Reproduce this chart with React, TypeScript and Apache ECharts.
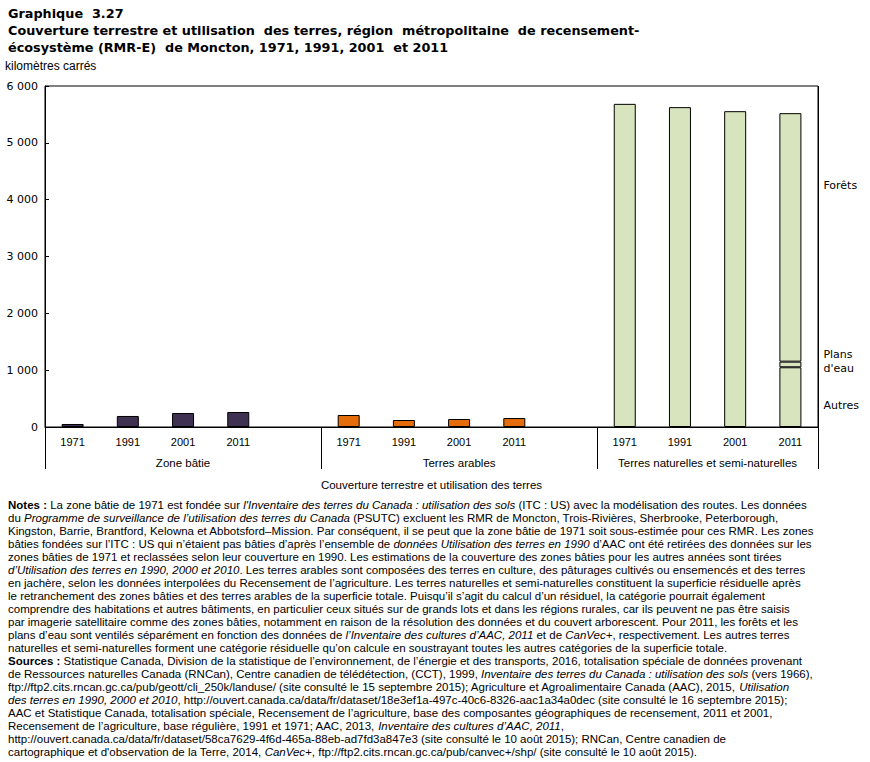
import React, { useEffect, useRef } from "react";
import * as echarts from "echarts";

const categories = ["1971", "1991", "2001", "2011", "", "1971", "1991", "2001", "2011", "", "1971", "1991", "2001", "2011"];
const groupLabels = ["Zone bâtie", "Terres arables", "Terres naturelles et semi-naturelles"];
const groupStarts = [0, 5, 10];
const groupEnds = [5, 10, 14];
const builtValues = [53, 194, 246, 264, null, null, null, null, null, null, null, null, null, null];
const arableValues = [null, null, null, null, null, 211, 123, 141, 158, null, null, null, null, null];
const naturalOtherValues = [null, null, null, null, null, null, null, null, null, null, 5686, 5628, 5557, 1051];
const waterValues = [null, null, null, null, null, null, null, null, null, null, null, null, null, 99];
const forestValues = [null, null, null, null, null, null, null, null, null, null, null, null, null, 4372];
const yTicks = [0, 1000, 2000, 3000, 4000, 5000, 6000];

const titleLines = [
  "Graphique  3.27",
  "Couverture terrestre et utilisation  des terres, région  métropolitaine  de recensement-",
  "écosystème (RMR-E)  de Moncton, 1971, 1991, 2001  et 2011",
];

const noteLines = [
  "{b|Notes :} La zone bâtie de 1971 est fondée sur {i|l'Inventaire des terres du Canada : utilisation des sols} (ITC : US) avec la modélisation des routes. Les données",
  "du {i|Programme de surveillance de l’utilisation des terres du Canada} (PSUTC) excluent les RMR de Moncton, Trois-Rivières, Sherbrooke, Peterborough,",
  "Kingston, Barrie, Brantford, Kelowna et Abbotsford–Mission. Par conséquent, il se peut que la zone bâtie de 1971 soit sous-estimée pour ces RMR. Les zones",
  "bâties fondées sur l’ITC : US qui n’étaient pas bâties d’après l’ensemble de {i|données Utilisation des terres en 1990} d’AAC ont été retirées des données sur les",
  "zones bâties de 1971 et reclassées selon leur couverture en 1990. Les estimations de la couverture des zones bâties pour les autres années sont tirées",
  "{i|d’Utilisation des terres en 1990, 2000 et 2010}. Les terres arables sont composées des terres en culture, des pâturages cultivés ou ensemencés et des terres",
  "en jachère, selon les données interpolées du Recensement de l’agriculture. Les terres naturelles et semi-naturelles constituent la superficie résiduelle après",
  "le retranchement des zones bâties et des terres arables de la superficie totale. Puisqu’il s’agit du calcul d’un résiduel, la catégorie pourrait également",
  "comprendre des habitations et autres bâtiments, en particulier ceux situés sur de grands lots et dans les régions rurales, car ils peuvent ne pas être saisis",
  "par imagerie satellitaire comme des zones bâties, notamment en raison de la résolution des données et du couvert arborescent. Pour 2011, les forêts et les",
  "plans d’eau sont ventilés séparément en fonction des données de {i|l’Inventaire des cultures d’AAC, 2011} et de {i|CanVec+}, respectivement. Les autres terres",
  "naturelles et semi-naturelles forment une catégorie résiduelle qu’on calcule en soustrayant toutes les autres catégories de la superficie totale.",
  "{b|Sources :} Statistique Canada, Division de la statistique de l’environnement, de l’énergie et des transports, 2016, totalisation spéciale de données provenant",
  "de Ressources naturelles Canada (RNCan), Centre canadien de télédétection, (CCT), 1999, {i|Inventaire des terres du Canada : utilisation des sols} (vers 1966),",
  "ftp://ftp2.cits.rncan.gc.ca/pub/geott/cli_250k/landuse/ (site consulté le 15 septembre 2015); Agriculture et Agroalimentaire Canada (AAC), 2015, {i|Utilisation}",
  "{i|des terres en 1990, 2000 et 2010}, http://ouvert.canada.ca/data/fr/dataset/18e3ef1a-497c-40c6-8326-aac1a34a0dec (site consulté le 16 septembre 2015);",
  "AAC et Statistique Canada, totalisation spéciale, Recensement de l’agriculture, base des composantes géographiques de recensement, 2011 et 2001,",
  "Recensement de l’agriculture, base régulière, 1991 et 1971; AAC, 2013, {i|Inventaire des cultures d’AAC, 2011},",
  "http://ouvert.canada.ca/data/fr/dataset/58ca7629-4f6d-465a-88eb-ad7fd3a847e3 (site consulté le 10 août 2015); RNCan, Centre canadien de",
  "cartographique et d'observation de la Terre, 2014, {i|CanVec+}, ftp://ftp2.cits.rncan.gc.ca/pub/canvec+/shp/ (site consulté le 10 août 2015).",
];

const COLOR_BUILT = "#3f3151";
const COLOR_ARABLE = "#e46c0a";
const COLOR_NATURAL = "#d7e4bd";
const NARROW = "'Liberation Sans', Arial, sans-serif";
const WIDE = "'DejaVu Sans', Verdana, sans-serif";
const NOTE_SIZE = 11.5;

function fmt(v: number) {
  return String(v).replace(/\B(?=(\d{3})+(?!\d))/g, " ");
}

const barStyle = (color: string) => ({ color, borderColor: "#000", borderWidth: 1 });

function withLabel(values: (number | null)[], text: string, offsetY: number) {
  return values.map((v, i) =>
    i === values.length - 1 && v != null
      ? {
          value: v,
          label: {
            show: true,
            position: "right",
            distance: 22,
            offset: [0, offsetY],
            formatter: text,
            color: "#000",
            fontFamily: WIDE,
            fontSize: 11,
            lineHeight: 14,
            align: "left",
          },
        }
      : v == null ? "-" : v
  );
}

export default function App() {
  const ref = useRef<HTMLDivElement>(null);
  useEffect(() => {
    if (!ref.current) return;
    const chart = echarts.init(ref.current, null, { renderer: "svg" });
    const option: any = {
      animation: false,
      backgroundColor: "#fff",
      grid: { left: 45, right: 52, top: 86, bottom: 335, show: true, borderColor: "#000", borderWidth: 1, backgroundColor: "transparent" },
      xAxis: {
        type: "category",
        data: categories,
        axisLine: { lineStyle: { color: "#000", width: 1 } },
        axisTick: { show: false },
        axisLabel: { color: "#000", fontFamily: NARROW, fontSize: 11, margin: 9, interval: 0 },
      },
      yAxis: {
        type: "value",
        min: 0,
        max: 6000,
        interval: 1000,
        axisLine: { show: true, lineStyle: { color: "#000", width: 1 } },
        axisTick: { show: true, inside: true, length: 4, lineStyle: { color: "#000" } },
        splitLine: { show: false },
        axisLabel: { color: "#000", fontFamily: WIDE, fontSize: 11, margin: 7, formatter: (v: number) => fmt(v) },
      },
      series: [
        { name: "Zone bâtie", type: "bar", stack: "s", barWidth: 22, data: builtValues.map((v) => (v == null ? "-" : v)), itemStyle: barStyle(COLOR_BUILT) },
        { name: "Terres arables", type: "bar", stack: "s", barWidth: 22, data: arableValues.map((v) => (v == null ? "-" : v)), itemStyle: barStyle(COLOR_ARABLE) },
        { name: "Autres", type: "bar", stack: "s", barWidth: 22, data: withLabel(naturalOtherValues, "Autres", 8), itemStyle: barStyle(COLOR_NATURAL) },
        { name: "Plans d'eau", type: "bar", stack: "s", barWidth: 22, data: withLabel(waterValues, "Plans\nd'eau", -3), itemStyle: barStyle(COLOR_NATURAL) },
        { name: "Forêts", type: "bar", stack: "s", barWidth: 22, data: withLabel(forestValues, "Forêts", -52), itemStyle: barStyle(COLOR_NATURAL) },
      ],
    };
    chart.setOption(option);

    const xs = categories.map((_, i) => chart.convertToPixel({ xAxisIndex: 0 }, i) as number);
    const band = xs[1] - xs[0];
    const edge = (i: number) => (i < xs.length ? xs[i] - band / 2 : xs[xs.length - 1] + band / 2);
    const y0 = chart.convertToPixel({ yAxisIndex: 0 }, 0) as number;
    const yTop = chart.convertToPixel({ yAxisIndex: 0 }, yTicks[yTicks.length - 1]) as number;
    const sepBottom = y0 + 42;

    const graphic: any[] = [];
    const bounds = [0, 5, 10, 14];
    bounds.forEach((b) => {
      const x = Math.round(edge(b)) + 0.5;
      graphic.push({ type: "line", silent: true, shape: { x1: x, y1: b === 0 || b === 14 ? yTop : y0, x2: x, y2: sepBottom }, style: { stroke: "#000", lineWidth: 1 } });
    });
    groupLabels.forEach((g, k) => {
      const cx = (edge(groupStarts[k]) + edge(groupEnds[k])) / 2;
      graphic.push({ type: "text", silent: true, x: cx, y: y0 + 36, style: { text: g, fill: "#000", font: `11.5px ${NARROW}`, align: "center", verticalAlign: "middle" } });
    });
    graphic.push({
      type: "text", silent: true, x: (edge(0) + edge(14)) / 2, y: y0 + 58,
      style: { text: "Couverture terrestre et utilisation des terres", fill: "#000", font: `11.5px ${NARROW}`, align: "center", verticalAlign: "middle" },
    });
    titleLines.forEach((t, i) => {
      graphic.push({ type: "text", silent: true, x: 8, y: 13 + i * 17, style: { text: t, fill: "#000", font: `bold 12.8px ${WIDE}`, verticalAlign: "middle" } });
    });
    graphic.push({ type: "text", silent: true, x: 5, y: 66, style: { text: "kilomètres carrés", fill: "#000", font: `12px ${NARROW}`, verticalAlign: "middle" } });
    noteLines.forEach((t, i) => {
      graphic.push({
        type: "text", silent: true, x: 8, y: 505 + i * 13,
        style: {
          text: t, fill: "#000", fontFamily: NARROW, fontSize: NOTE_SIZE, verticalAlign: "middle",
          rich: {
            b: { fontWeight: "bold", fontFamily: NARROW, fontSize: NOTE_SIZE, fill: "#000" },
            i: { fontStyle: "italic", fontFamily: NARROW, fontSize: NOTE_SIZE, fill: "#000" },
          },
        },
      });
    });
    chart.setOption({ graphic });
    return () => chart.dispose();
  }, []);
  return <div ref={ref} style={{ position: "fixed", left: 0, top: 0, width: 870, height: 762, background: "#fff" }} />;
}
